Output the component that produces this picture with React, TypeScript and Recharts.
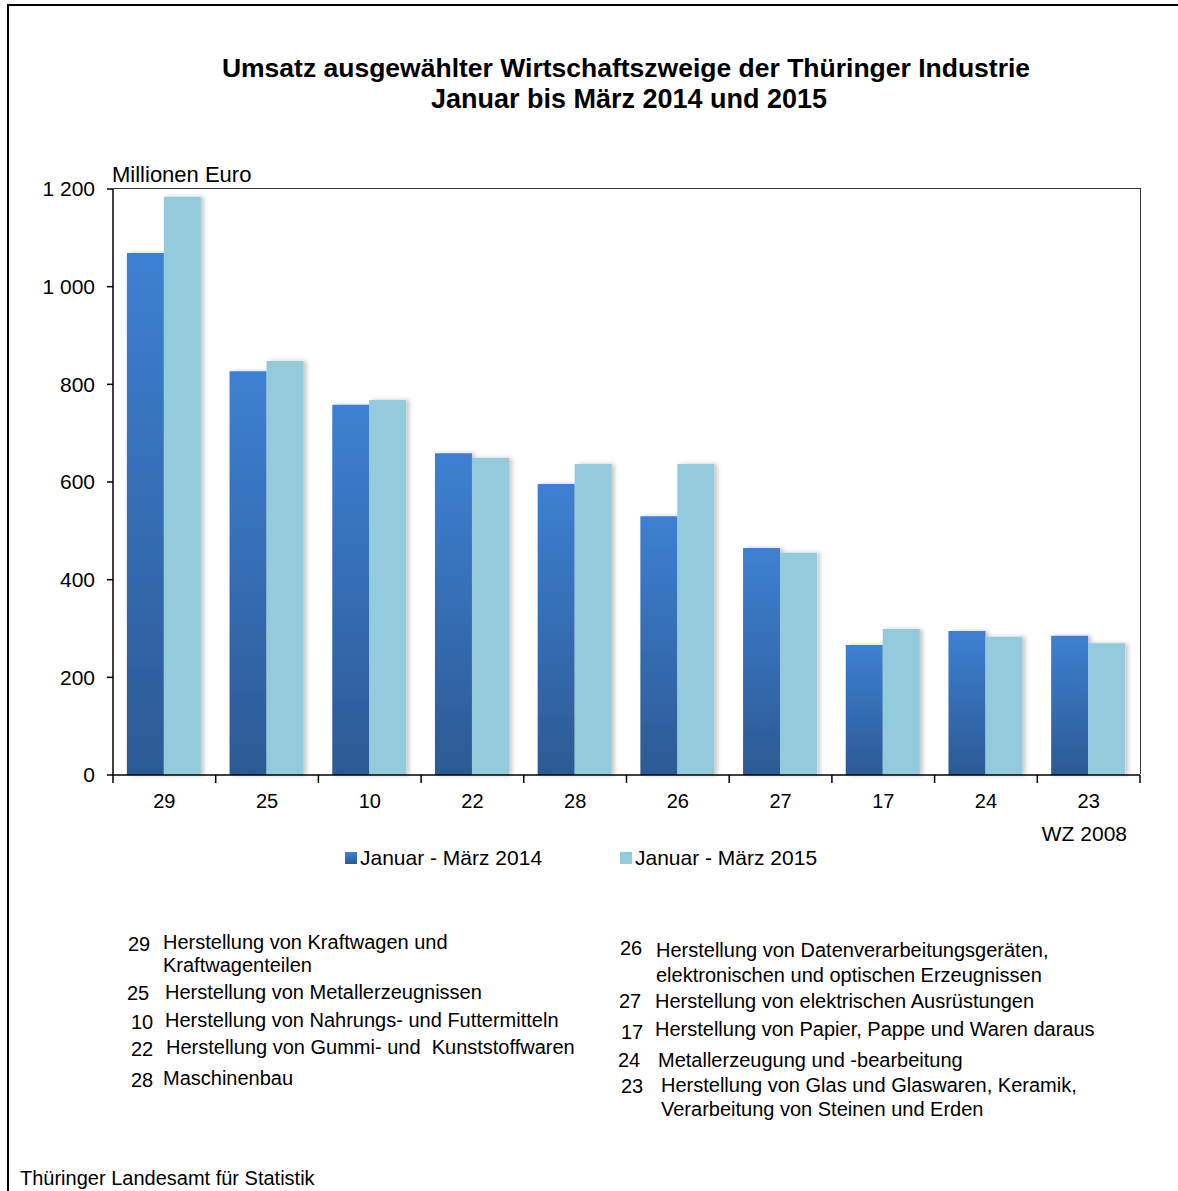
import React from 'react';
import { BarChart, Bar, XAxis, YAxis } from 'recharts';

const categories = ['29', '25', '10', '22', '28', '26', '27', '17', '24', '23'];
const values2014 = [1069, 827, 758, 659, 596, 530, 465, 266, 295, 285];
const values2015 = [1184, 848, 768, 649, 637, 637, 455, 299, 283, 270];
const yTicks = [0, 200, 400, 600, 800, 1000, 1200];
const seriesNames = ['Januar - März 2014', 'Januar - März 2015'];

const leftNotes = [
  { code: '29', lines: ['Herstellung von Kraftwagen und', 'Kraftwagenteilen'] },
  { code: '25', lines: ['Herstellung von Metallerzeugnissen'] },
  { code: '10', lines: ['Herstellung von Nahrungs- und Futtermitteln'] },
  { code: '22', lines: ['Herstellung von Gummi- und  Kunststoffwaren'] },
  { code: '28', lines: ['Maschinenbau'] },
];
const rightNotes = [
  { code: '26', lines: ['Herstellung von Datenverarbeitungsgeräten,', 'elektronischen und optischen Erzeugnissen'] },
  { code: '27', lines: ['Herstellung von elektrischen Ausrüstungen'] },
  { code: '17', lines: ['Herstellung von Papier, Pappe und Waren daraus'] },
  { code: '24', lines: ['Metallerzeugung und -bearbeitung'] },
  { code: '23', lines: ['Herstellung von Glas und Glaswaren, Keramik,', 'Verarbeitung von Steinen und Erden'] },
];

const data = categories.map((c, i) => ({ cat: c, v2014: values2014[i], v2015: values2015[i] }));

const W = 1178;
const H = 1191;
const PLOT_LEFT = 113;
const PLOT_RIGHT = 1140;
const PLOT_TOP = 189;
const PLOT_BOTTOM = 775;
const X_AXIS_H = 30;
const HALF_BAND = (PLOT_RIGHT - PLOT_LEFT) / categories.length / 2;

const FONT = '"Liberation Sans", Arial, sans-serif';

const fmt = (v: number) => {
  const s = String(v);
  return s.length > 3 ? s.slice(0, s.length - 3) + ' ' + s.slice(-3) : s;
};

const XTick = (props: any) => {
  const { x, y, payload, index } = props;
  const last = index === categories.length - 1;
  return (
    <g>
      <line x1={x - HALF_BAND} x2={x - HALF_BAND} y1={y - 8} y2={y} stroke="#000" strokeWidth={1.5} />
      {last && <line x1={x + HALF_BAND} x2={x + HALF_BAND} y1={y - 8} y2={y} stroke="#000" strokeWidth={1.5} />}
      <text x={x} y={y + 25} textAnchor="middle" fontSize={20} fill="#000" fontFamily={FONT}>
        {payload.value}
      </text>
    </g>
  );
};

const abs = (left: number, top: number, extra: any = {}) => ({
  position: 'absolute' as const,
  left,
  top,
  whiteSpace: 'pre' as const,
  ...extra,
});

export default function App() {
  const leftPos = [
    { nx: 128, ny: 944, tx: 163, ty: [942, 965] },
    { nx: 127, ny: 993, tx: 165, ty: [992] },
    { nx: 131, ny: 1022, tx: 165, ty: [1020] },
    { nx: 131, ny: 1049, tx: 166, ty: [1047] },
    { nx: 131, ny: 1080, tx: 163, ty: [1078] },
  ];
  const rightPos = [
    { nx: 620, ny: 948, tx: 656, ty: [950, 975] },
    { nx: 619, ny: 1001, tx: 655, ty: [1001] },
    { nx: 621, ny: 1032, tx: 655, ty: [1029] },
    { nx: 618, ny: 1060, tx: 658, ty: [1060] },
    { nx: 621, ny: 1086, tx: 661, ty: [1085, 1109] },
  ];
  const textStyle = { fontSize: 20, lineHeight: '22px', color: '#000' };
  const renderNotes = (notes: typeof leftNotes, pos: typeof leftPos) =>
    notes.map((n, i) => (
      <React.Fragment key={n.code}>
        <div style={abs(pos[i].nx, pos[i].ny - 11, textStyle)}>{n.code}</div>
        {n.lines.map((l, j) => (
          <div key={j} style={abs(pos[i].tx, pos[i].ty[j] - 11, textStyle)}>{l}</div>
        ))}
      </React.Fragment>
    ));

  return (
    <div style={{ position: 'absolute', left: 0, top: 0, width: W, height: H, background: '#fff', fontFamily: FONT, overflow: 'hidden' }}>
      <div style={{ position: 'absolute', left: 7, top: 4, width: W - 7, height: H - 4, borderLeft: '2px solid #000', borderTop: '2px solid #000', boxSizing: 'border-box' }} />
      <div style={{ position: 'absolute', left: PLOT_LEFT, top: PLOT_TOP - 1, width: PLOT_RIGHT - PLOT_LEFT + 1, height: PLOT_BOTTOM - PLOT_TOP, borderTop: '1.5px solid #3a3a3a', borderRight: '1.5px solid #3a3a3a', boxSizing: 'border-box' }} />
      <div style={{ position: 'absolute', left: 0, top: 0 }}>
        <BarChart
          width={W}
          height={H}
          data={data}
          margin={{ top: PLOT_TOP, right: W - PLOT_RIGHT, left: 0, bottom: H - PLOT_BOTTOM - X_AXIS_H }}
          barCategoryGap="13.5%"
          barGap={0}
        >
          <defs>
            <linearGradient id="gradBlue" x1="0" y1="0" x2="0" y2="1">
              <stop offset="0%" stopColor="#3d80d2" />
              <stop offset="100%" stopColor="#2c5a94" />
            </linearGradient>
            <filter id="barShadow" x="-20%" y="-5%" width="150%" height="110%">
              <feDropShadow dx="3" dy="0" stdDeviation="2" floodColor="#000" floodOpacity="0.22" />
            </filter>
          </defs>
          <XAxis
            dataKey="cat"
            height={X_AXIS_H}
            tickLine={false}
            tickSize={8}
            tickMargin={0}
            axisLine={{ stroke: '#000', strokeWidth: 1.5 }}
            tick={<XTick />}
            interval={0}
          />
          <YAxis
            width={PLOT_LEFT}
            domain={[0, 1200]}
            ticks={yTicks}
            interval={0}
            tickFormatter={fmt}
            tickSize={6}
            tickMargin={12}
            tick={{ fontSize: 21, fill: '#000', fontFamily: FONT }}
            tickLine={{ stroke: '#000', strokeWidth: 1.5 }}
            axisLine={{ stroke: '#000', strokeWidth: 1.5 }}
          />
          <Bar dataKey="v2014" name={seriesNames[0]} fill="url(#gradBlue)" filter="url(#barShadow)" isAnimationActive={false} />
          <Bar dataKey="v2015" name={seriesNames[1]} fill="#93cbdc" filter="url(#barShadow)" isAnimationActive={false} />
        </BarChart>
      </div>

      <div style={abs(0, 53, { width: 1252, textAlign: 'center', fontSize: 26.5, fontWeight: 'bold', lineHeight: '31px' })}>
        Umsatz ausgewählter Wirtschaftszweige der Thüringer Industrie
      </div>
      <div style={abs(0, 84, { width: 1258, textAlign: 'center', fontSize: 27, fontWeight: 'bold', lineHeight: '31px' })}>
        Januar bis März 2014 und 2015
      </div>
      <div style={abs(112, 164, { fontSize: 22, lineHeight: '22px' })}>Millionen Euro</div>
      <div style={abs(1127 - 200, 823, { width: 200, textAlign: 'right', fontSize: 21, lineHeight: '22px' })}>WZ 2008</div>

      <div style={abs(345, 852, { width: 12, height: 12, background: 'linear-gradient(#3d80d2, #2c5a94)' })} />
      <div style={abs(360, 847, { fontSize: 21, lineHeight: '22px' })}>{seriesNames[0]}</div>
      <div style={abs(620, 852, { width: 12, height: 12, background: '#93cbdc' })} />
      <div style={abs(635, 847, { fontSize: 21, lineHeight: '22px' })}>{seriesNames[1]}</div>

      {renderNotes(leftNotes, leftPos)}
      {renderNotes(rightNotes, rightPos)}

      <div style={abs(20, 1167, { fontSize: 20, lineHeight: '22px' })}>Thüringer Landesamt für Statistik</div>
    </div>
  );
}
